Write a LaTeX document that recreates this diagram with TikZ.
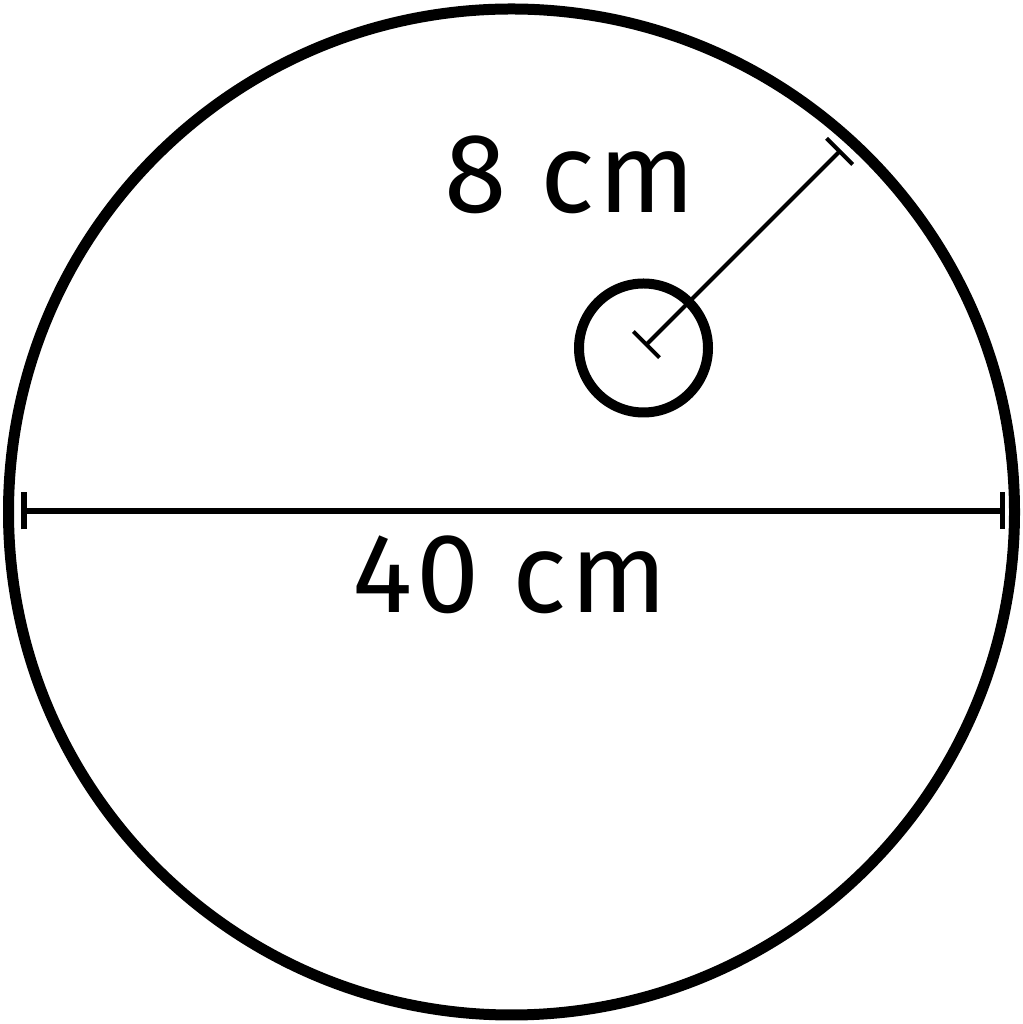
\documentclass[tikz,border=0pt]{standalone}
\usepackage{fontspec}
\setmainfont{Fira Sans}[LetterSpace=3.3]
\usetikzlibrary{arrows.meta}
\begin{document}
\begin{tikzpicture}[x=1bp,y=1bp,dim/.style={line width=5.5bp,{Bar[width=37bp]}-{Bar[width=37bp]}},lbl/.style={anchor=base,font=\fontsize{113bp}{113bp}\selectfont}]
		%%
  \useasboundingbox (0bp,0bp) rectangle (1023bp,1024bp);
  \coordinate (Big) at (511.5bp,512.0bp);
  \coordinate (Small) at (643.5bp,676.0bp);
  \coordinate (DiaL) at (21.0bp,513.0bp);
  \coordinate (DiaR) at (1005.0bp,513.0bp);
  \coordinate (RadA) at (645.0bp,678.0bp);
  \coordinate (RadB) at (841.0bp,874.0bp);
  \draw [line width=11bp] (Big) circle (503bp);
  \draw [line width=10bp] (Small) circle (64.5bp);
  \draw [dim] (DiaL) -- (DiaR);
  \draw [dim,line width=4bp] (RadA) -- (RadB);
  \node (D40) at (510.0bp,411.0bp) [lbl] {40 cm};
  \node (D8) at (570.0bp,811.0bp) [lbl] {8 cm};
		%
	\end{tikzpicture}
\end{document}
